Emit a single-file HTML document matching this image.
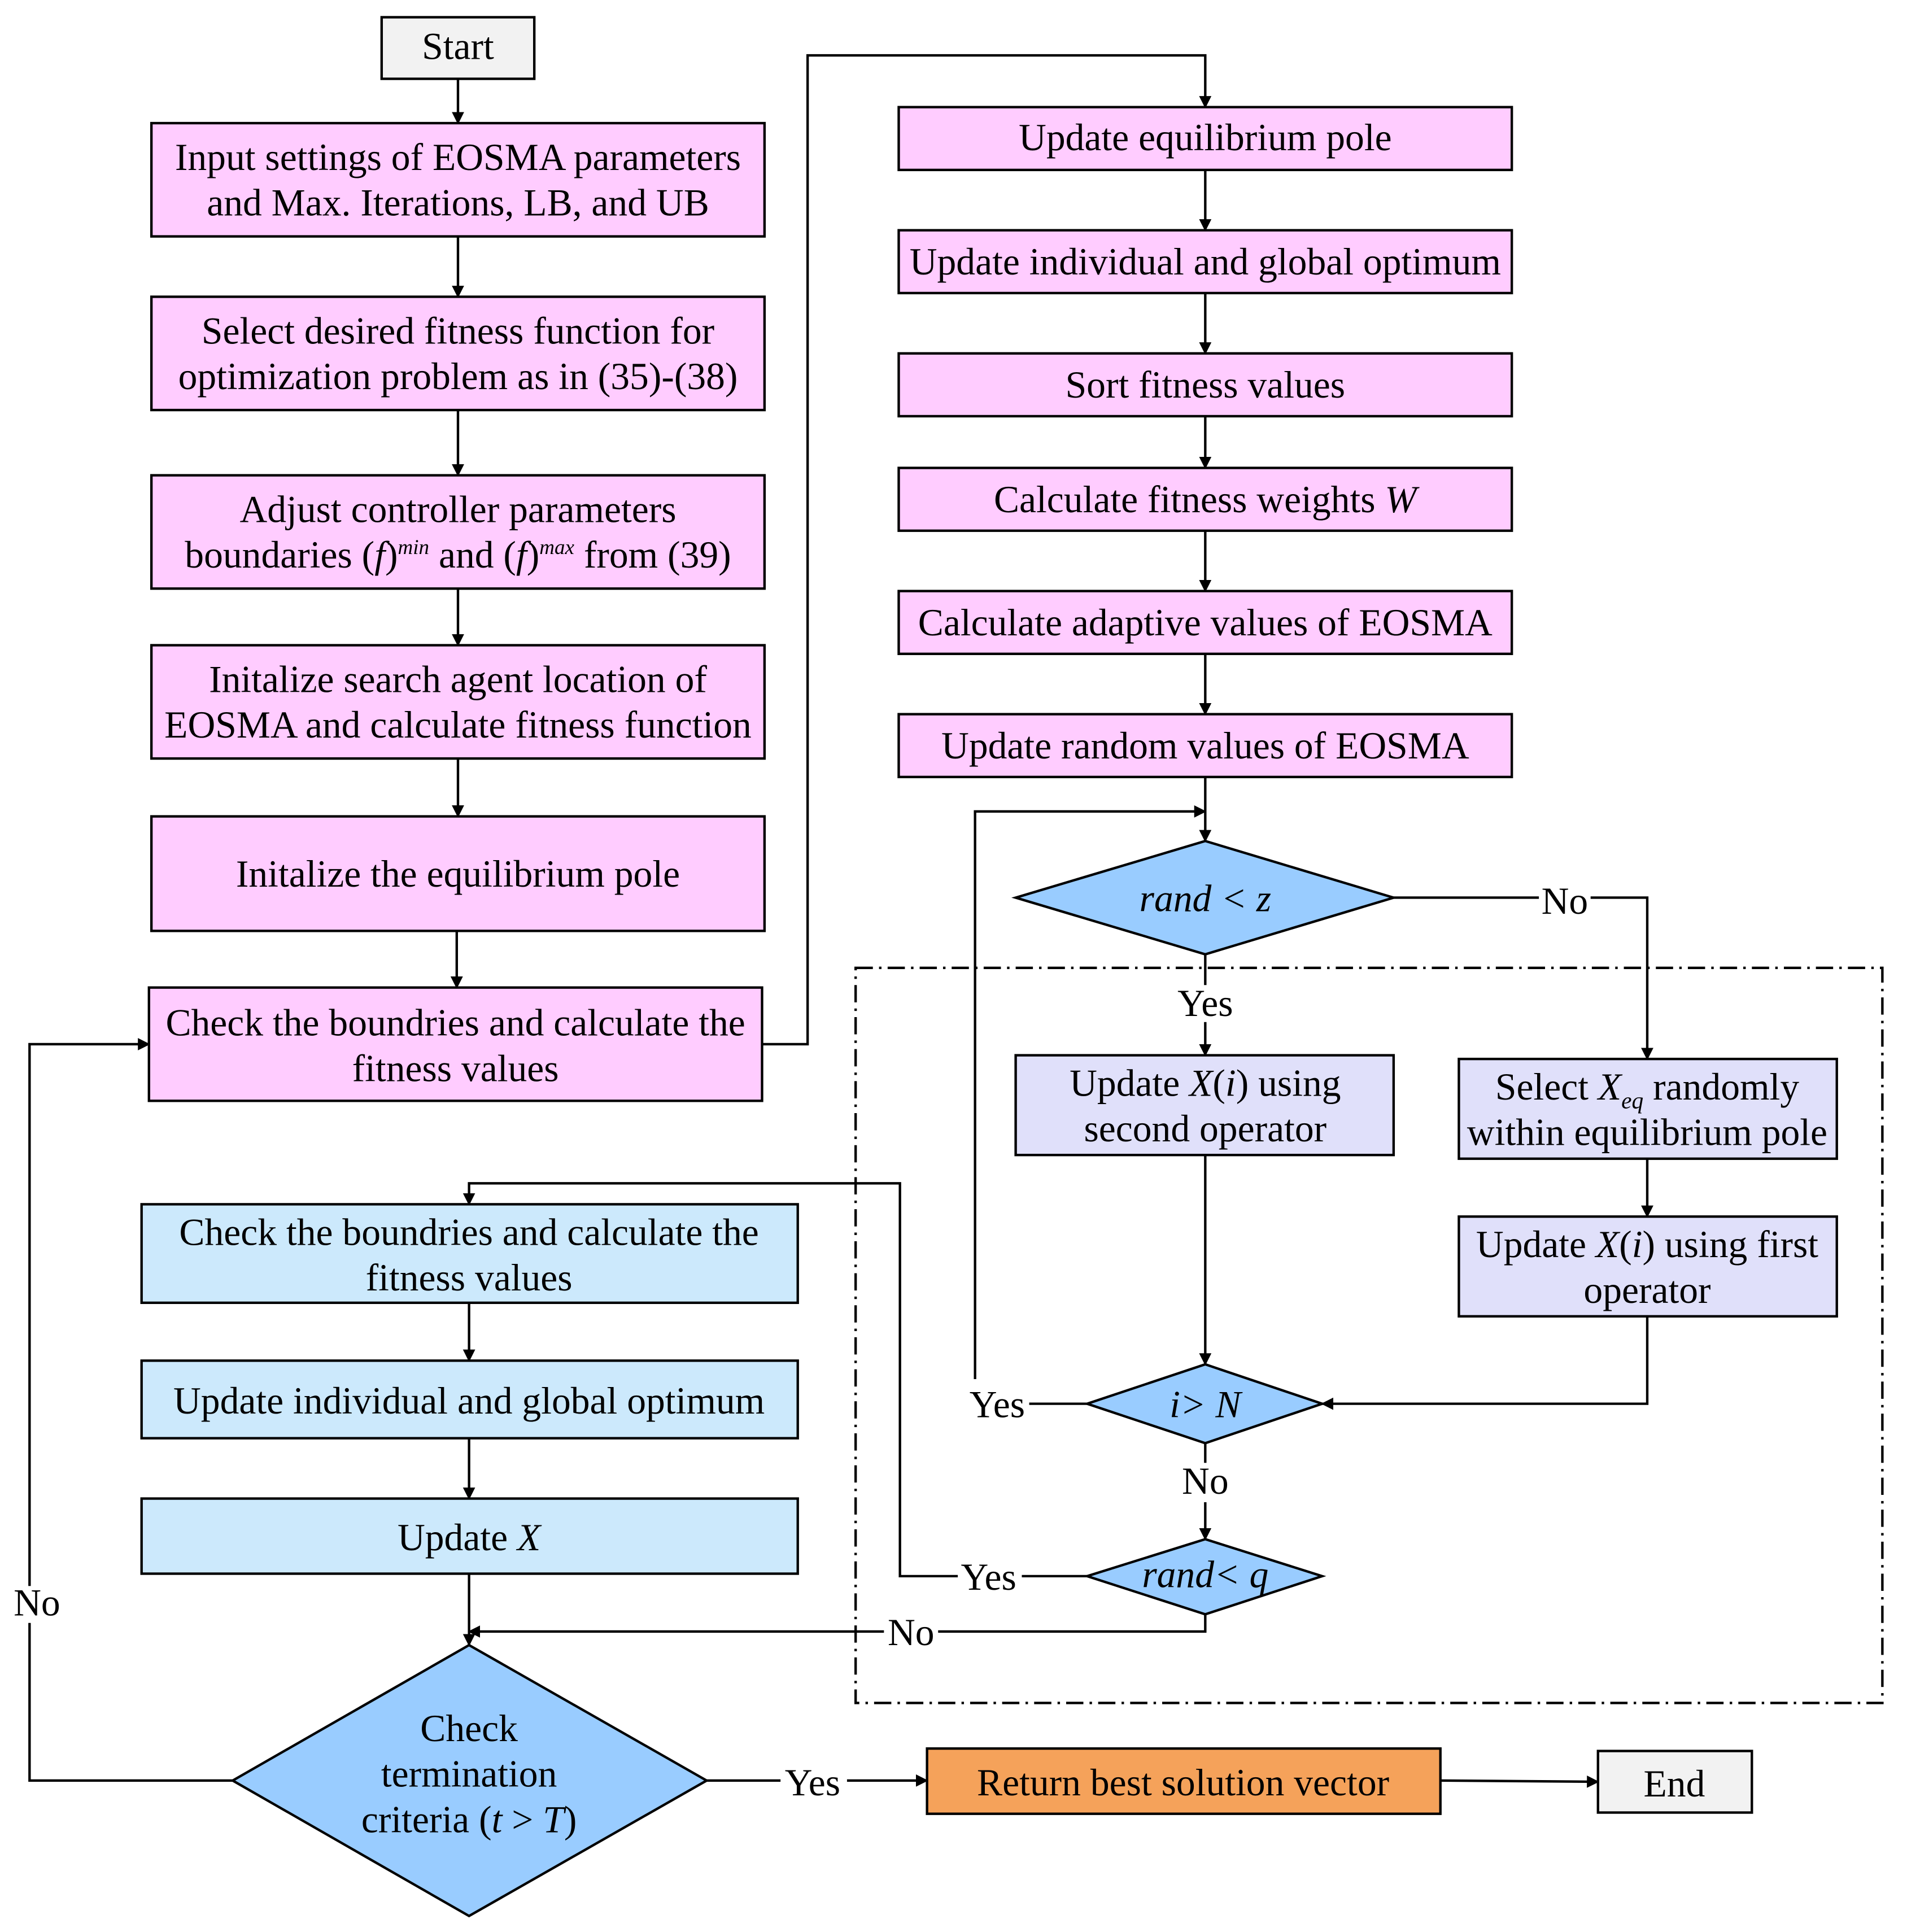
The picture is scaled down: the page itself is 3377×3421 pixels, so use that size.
<!DOCTYPE html>
<html><head><meta charset="utf-8"><style>html,body{margin:0;padding:0;background:#fff}svg{display:block}</style></head>
<body>
<svg width="3377" height="3421" viewBox="0 0 1549 1569" preserveAspectRatio="none" xmlns="http://www.w3.org/2000/svg" font-family="Liberation Serif, serif" font-size="31" text-anchor="middle">
<defs><marker id="a" markerWidth="10" markerHeight="10" refX="9" refY="5" orient="auto" markerUnits="userSpaceOnUse"><path d="M0,0 L10,5 L0,10 z" fill="#000"/></marker></defs>
<g stroke="#000" stroke-width="2">
<rect x="310" y="14" width="124" height="50" fill="#f2f2f2"/>
<g fill="#ffccff">
<rect x="123" y="100" width="498" height="92"/>
<rect x="123" y="241" width="498" height="92"/>
<rect x="123" y="386" width="498" height="92"/>
<rect x="123" y="524" width="498" height="92"/>
<rect x="123" y="663" width="498" height="93"/>
<rect x="121" y="802" width="498" height="92"/>
<rect x="730" y="87" width="498" height="51"/>
<rect x="730" y="187" width="498" height="51"/>
<rect x="730" y="287" width="498" height="51"/>
<rect x="730" y="380" width="498" height="51"/>
<rect x="730" y="480" width="498" height="51"/>
<rect x="730" y="580" width="498" height="51"/>
</g>
<g fill="#cce9fc">
<rect x="115" y="978" width="533" height="80"/>
<rect x="115" y="1105" width="533" height="63"/>
<rect x="115" y="1217" width="533" height="61"/>
</g>
<g fill="#e0e0fa">
<rect x="825" y="857" width="307" height="81"/>
<rect x="1185" y="860" width="307" height="81"/>
<rect x="1185" y="988" width="307" height="81"/>
</g>
<g fill="#99ccff">
<polygon points="979,683 1132,729 979,775 825,729"/>
<polygon points="979,1108 1074,1140 979,1172 883,1140"/>
<polygon points="979,1250 1074,1280 979,1311 883,1280"/>
<polygon points="381,1336 574,1446 381,1556 189,1446"/>
</g>
<rect x="753" y="1420" width="417" height="53" fill="#f5a25a"/>
<rect x="1298" y="1422" width="125" height="50" fill="#f2f2f2"/>
<rect x="695" y="786" width="834" height="597" fill="none" stroke-dasharray="14,5,2,5"/>
<g fill="none" marker-end="url(#a)">
<line x1="372" y1="64" x2="372" y2="100"/>
<line x1="372" y1="192" x2="372" y2="241"/>
<line x1="372" y1="333" x2="372" y2="386"/>
<line x1="372" y1="478" x2="372" y2="524"/>
<line x1="372" y1="616" x2="372" y2="663"/>
<line x1="371" y1="756" x2="371" y2="802"/>
<polyline points="619,848 656,848 656,45 979,45 979,87"/>
<line x1="979" y1="138" x2="979" y2="187"/>
<line x1="979" y1="238" x2="979" y2="287"/>
<line x1="979" y1="338" x2="979" y2="380"/>
<line x1="979" y1="431" x2="979" y2="480"/>
<line x1="979" y1="531" x2="979" y2="580"/>
<line x1="979" y1="631" x2="979" y2="683"/>
<polyline points="792,1120 792,659 979,659"/>
<polyline points="1132,729 1338,729 1338,860"/>
<line x1="979" y1="830" x2="979" y2="857"/>
<line x1="1338" y1="941" x2="1338" y2="988"/>
<line x1="979" y1="938" x2="979" y2="1108"/>
<polyline points="1338,1069 1338,1140 1074,1140"/>
<line x1="979" y1="1220" x2="979" y2="1250"/>
<polyline points="778,1280 731,1280 731,961 381,961 381,978"/>
<polyline points="979,1311 979,1325 381,1325"/>
<line x1="381" y1="1058" x2="381" y2="1105"/>
<line x1="381" y1="1168" x2="381" y2="1217"/>
<line x1="381" y1="1278" x2="381" y2="1336"/>
<polyline points="189,1446 24,1446 24,848 121,848"/>
<line x1="574" y1="1446" x2="753" y2="1446"/>
<line x1="1170" y1="1446" x2="1298" y2="1447"/>
</g>
<line x1="979" y1="775" x2="979" y2="800"/>
<line x1="836" y1="1140" x2="883" y2="1140"/>
<line x1="979" y1="1172" x2="979" y2="1188"/>
<line x1="830" y1="1280" x2="883" y2="1280"/>
</g>
<g fill="#fff">
<rect x="1250" y="715" width="42" height="30"/>
<rect x="718" y="1311" width="44" height="30"/>
<rect x="634" y="1432" width="54" height="30"/>
<rect x="8" y="1288" width="44" height="30"/>
</g>
<g fill="#000">
<text x="372" y="48">Start</text>
<text x="372" y="138">Input settings of EOSMA parameters</text>
<text x="372" y="175">and Max. Iterations, LB, and UB</text>
<text x="372" y="279">Select desired fitness function for</text>
<text x="372" y="316">optimization problem as in (35)-(38)</text>
<text x="372" y="424">Adjust controller parameters</text>
<text x="372" y="461">boundaries (<tspan font-style="italic">f</tspan>)<tspan font-size="17" font-style="italic" dy="-11">min</tspan><tspan dy="11"> and (</tspan><tspan font-style="italic">f</tspan>)<tspan font-size="17" font-style="italic" dy="-11">max</tspan><tspan dy="11"> from (39)</tspan></text>
<text x="372" y="562">Initalize search agent location of</text>
<text x="372" y="599">EOSMA and calculate fitness function</text>
<text x="372" y="720">Initalize the equilibrium pole</text>
<text x="370" y="841">Check the boundries and calculate the</text>
<text x="370" y="878">fitness values</text>
<text x="979" y="122">Update equilibrium pole</text>
<text x="979" y="223">Update individual and global optimum</text>
<text x="979" y="323">Sort fitness values</text>
<text x="979" y="416">Calculate fitness weights <tspan font-style="italic">W</tspan></text>
<text x="979" y="516">Calculate adaptive values of EOSMA</text>
<text x="979" y="616">Update random values of EOSMA</text>
<text x="979" y="740" font-style="italic">rand &lt; z</text>
<text x="1271" y="742">No</text>
<text x="979" y="825">Yes</text>
<text x="979" y="890">Update <tspan font-style="italic">X</tspan>(<tspan font-style="italic">i</tspan>) using</text>
<text x="979" y="927">second operator</text>
<text x="1338" y="893">Select <tspan font-style="italic">X</tspan><tspan font-size="19" font-style="italic" dy="7">eq</tspan><tspan dy="-7"> randomly</tspan></text>
<text x="1338" y="930">within equilibrium pole</text>
<text x="1338" y="1021">Update <tspan font-style="italic">X</tspan>(<tspan font-style="italic">i</tspan>) using first</text>
<text x="1338" y="1058">operator</text>
<text x="979" y="1151" font-style="italic">i&gt; N</text>
<text x="810" y="1151">Yes</text>
<text x="979" y="1213">No</text>
<text x="979" y="1289" font-style="italic">rand&lt; q</text>
<text x="803" y="1291">Yes</text>
<text x="740" y="1336">No</text>
<text x="381" y="1011">Check the boundries and calculate the</text>
<text x="381" y="1048">fitness values</text>
<text x="381" y="1148">Update individual and global optimum</text>
<text x="381" y="1259">Update <tspan font-style="italic">X</tspan></text>
<text x="381" y="1414">Check</text>
<text x="381" y="1451">termination</text>
<text x="381" y="1488">criteria (<tspan font-style="italic">t</tspan> &gt; <tspan font-style="italic">T</tspan>)</text>
<text x="30" y="1312">No</text>
<text x="660" y="1458">Yes</text>
<text x="961" y="1458">Return best solution vector</text>
<text x="1360" y="1459">End</text>
</g>
</svg>
</body></html>
